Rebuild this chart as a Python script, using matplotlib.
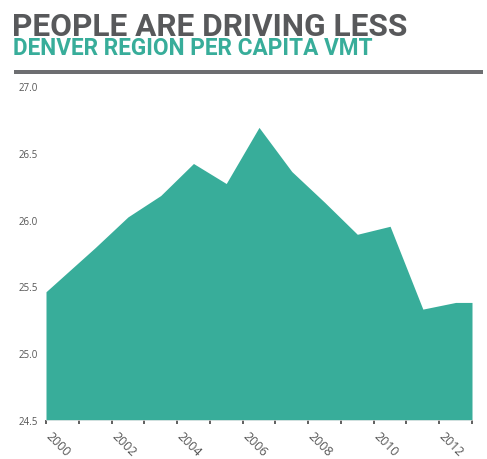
import matplotlib
matplotlib.use("Agg")
import matplotlib.pyplot as plt
from matplotlib.patches import Rectangle
from matplotlib.transforms import ScaledTranslation

years = [2000.0, 2001.5, 2002.5, 2003.5, 2004.5, 2005.5, 2006.5, 2007.5,
         2008.5, 2009.5, 2010.5, 2011.5, 2012.5, 2013.0]
vmt = [25.46, 25.79, 26.02, 26.18, 26.42, 26.27, 26.69, 26.36,
       26.13, 25.89, 25.95, 25.33, 25.38, 25.38]
tick_years = list(range(2000, 2014))
label_years = [2000, 2002, 2004, 2006, 2008, 2010, 2012]
yticks = [24.5, 25.0, 25.5, 26.0, 26.5, 27.0]

title = "PEOPLE ARE DRIVING LESS"
subtitle = "DENVER REGION PER CAPITA VMT"

teal = "#38ad9a"
gray = "#58595b"

fig = plt.figure(figsize=(4.87, 4.60), dpi=100)
ax = fig.add_axes([46/487, 39/460, 426/487, 334/460])
ax.fill_between(years, vmt, 24.5, color=teal, lw=0)
ax.set_xlim(2000, 2013)
ax.set_ylim(24.5, 27.0)
ax.set_yticks(yticks)
ax.set_yticklabels([f"{v:.1f}" for v in yticks], fontsize=7, color="#555555",
                   family=["Open Sans", "DejaVu Sans"])
ax.tick_params(axis="y", length=0, pad=6)
ax.set_xticks(tick_years)
ax.set_xticklabels([str(y) if y in label_years else "" for y in tick_years],
                   rotation=-45, ha="left", va="center", rotation_mode="anchor",
                   fontsize=9, color="#555555", family=["Open Sans", "DejaVu Sans"])
ax.tick_params(axis="x", length=3, width=1.2, color="#444444", pad=7)
off = ScaledTranslation(2/100, 0, fig.dpi_scale_trans)
for lbl in ax.get_xticklabels():
    lbl.set_transform(lbl.get_transform() + off)
for s in ["top", "right", "left"]:
    ax.spines[s].set_visible(False)
ax.spines["bottom"].set_color("#e6e6e6")
ax.spines["bottom"].set_linewidth(0.5)

fig.text(12/487, 1 - 36.5/460, title, fontsize=22.8, fontweight="bold", color=gray,
         family=["Roboto", "DejaVu Sans"], ha="left", va="baseline")
fig.text(13/487, 1 - 55/460, subtitle, fontsize=16.3, fontweight="bold", color=teal,
         family=["Roboto", "DejaVu Sans"], ha="left", va="baseline")
fig.patches.append(Rectangle((14/487, 1 - 75/460), (483-14)/487, 4/460,
                             transform=fig.transFigure, color="#6d6e71", lw=0))

fig.savefig("out.png", dpi=100)
